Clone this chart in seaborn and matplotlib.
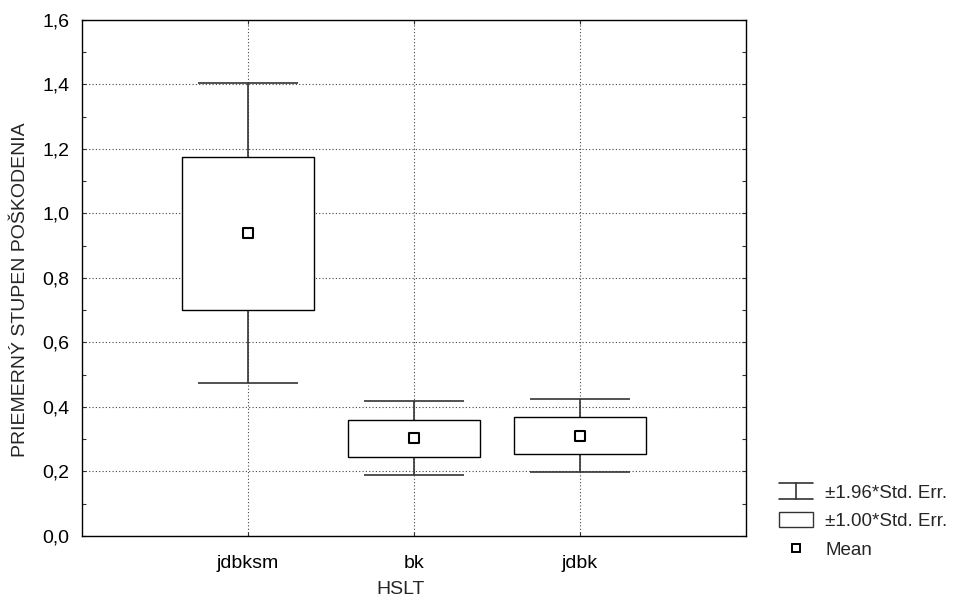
import matplotlib
matplotlib.use("Agg")
import matplotlib.pyplot as plt
import seaborn as sns
import pandas as pd
from matplotlib.legend_handler import HandlerBase
from matplotlib.lines import Line2D
from matplotlib.patches import Rectangle
from matplotlib.ticker import MultipleLocator, FuncFormatter

categories = ["jdbksm", "bk", "jdbk"]
means = [0.940, 0.304, 0.310]
se1_low = [0.701, 0.245, 0.254]
se1_high = [1.175, 0.360, 0.369]
se196_low = [0.474, 0.189, 0.198]
se196_high = [1.405, 0.419, 0.425]
legend_labels = ["±1.96*Std. Err.", "±1.00*Std. Err.", "Mean"]
x_label = "HSLT"
y_label = "PRIEMERNÝ STUPEN POŠKODENIA"

df = pd.DataFrame({"HSLT": categories, "mean": means,
                   "lo1": se1_low, "hi1": se1_high,
                   "lo2": se196_low, "hi2": se196_high})

sns.set_style("white")
plt.rcParams["font.family"] = ["Liberation Sans", "DejaVu Sans"]
FS = 14
LFS = 13.5

fig = plt.figure(figsize=(9.56, 5.97), dpi=100)
ax = fig.add_axes([0.0858, 0.1022, 0.6945, 0.8643])

pos = list(range(len(categories)))
box_w = 0.8
cap_w = 0.6

ax.vlines(pos, df["lo2"], df["hi2"], color="#333333", lw=1.2, zorder=2)
ax.hlines(df["hi2"], [p - cap_w / 2 for p in pos], [p + cap_w / 2 for p in pos],
          color="#333333", lw=1.2, zorder=2)
ax.hlines(df["lo2"], [p - cap_w / 2 for p in pos], [p + cap_w / 2 for p in pos],
          color="#333333", lw=1.2, zorder=2)
ax.bar(pos, df["hi1"] - df["lo1"], bottom=df["lo1"], width=box_w,
       facecolor="white", edgecolor="black", linewidth=1.0, zorder=3)
sns.scatterplot(data=df, x="HSLT", y="mean", ax=ax, marker="s", s=50,
                facecolor="white", edgecolor="black", linewidth=1.5, zorder=4,
                legend=False)

ax.set_xlim(-1, 3)
ax.set_ylim(0, 1.6)
ax.set_xticks(pos)
ax.set_xticklabels(categories)
ax.yaxis.set_major_locator(MultipleLocator(0.2))
ax.yaxis.set_minor_locator(MultipleLocator(0.1))
ax.yaxis.set_major_formatter(FuncFormatter(lambda v, p: f"{v:.1f}".replace(".", ",")))
ax.tick_params(axis="both", which="both", direction="in", left=True, right=True,
               bottom=True, top=True, length=3, width=0.8, labelsize=FS,
               color="#333333", labelcolor="black")
ax.tick_params(axis="y", pad=9)
ax.tick_params(axis="x", pad=14)
ax.grid(True, which="major", linestyle=(0, (1, 2)), color="#444444", linewidth=0.8)
ax.set_axisbelow(True)
for s in ax.spines.values():
    s.set_color("black")
    s.set_linewidth(1.0)

ax.set_xlabel(x_label, fontsize=FS)
ax.set_ylabel(y_label, fontsize=FS)
ax.xaxis.set_label_coords(0.480, -0.087)
ax.yaxis.set_label_coords(-0.080, 0.477)


class CapHandler(HandlerBase):
    def create_artists(self, legend, orig_handle, xd, yd, width, height, fontsize, trans):
        ym = yd + height / 2
        hh = 5.8
        xm = xd + width / 2
        a = Line2D([xd, xd + width], [ym + hh, ym + hh], color="#333333", lw=1.2)
        b = Line2D([xd, xd + width], [ym - hh, ym - hh], color="#333333", lw=1.2)
        c = Line2D([xm, xm], [ym - hh, ym + hh], color="#333333", lw=1.2)
        for art in (a, b, c):
            art.set_transform(trans)
        return [a, b, c]


class BoxHandler(HandlerBase):
    def create_artists(self, legend, orig_handle, xd, yd, width, height, fontsize, trans):
        hh = 5.4
        ym = yd + height / 2
        r = Rectangle((xd, ym - hh), width, 2 * hh, facecolor="white",
                      edgecolor="#333333", lw=1.0, transform=trans)
        return [r]


cap_h = Line2D([], [])
box_h = Rectangle((0, 0), 1, 1)
mean_h = Line2D([], [], marker="s", linestyle="none", markersize=5.5,
                markerfacecolor="white", markeredgecolor="black", markeredgewidth=1.4)

fig.legend([cap_h, box_h, mean_h], legend_labels,
           handler_map={cap_h: CapHandler(), box_h: BoxHandler()},
           loc="upper left", bbox_to_anchor=(0.815, 0.188), frameon=False,
           fontsize=LFS, handlelength=1.8, handletextpad=0.65, labelspacing=0.6,
           borderpad=0, borderaxespad=0)

fig.savefig("out.png", dpi=100)
